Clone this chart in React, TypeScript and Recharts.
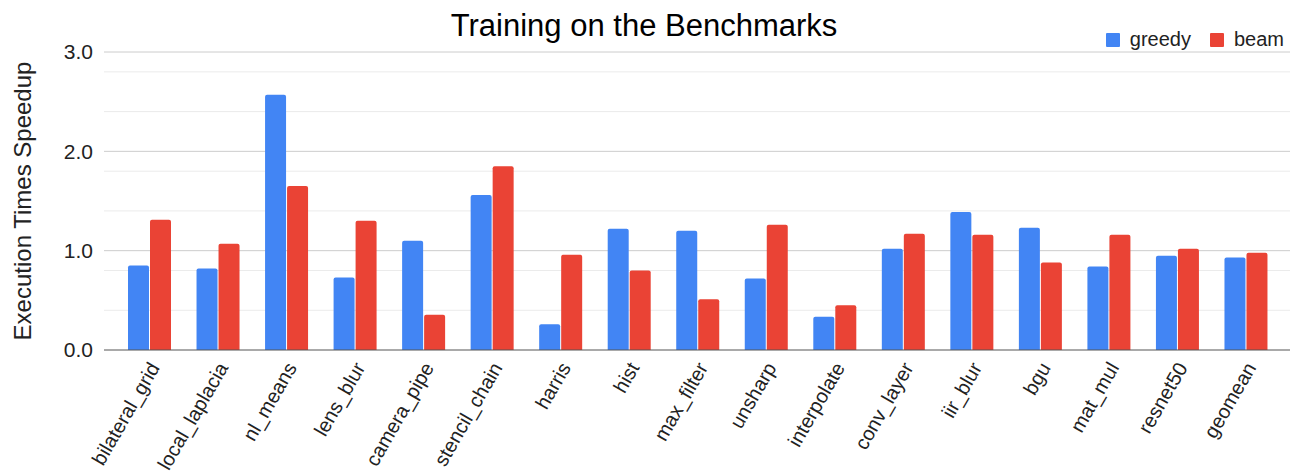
import React from 'react';
import {
  BarChart,
  Bar,
  XAxis,
  YAxis,
  CartesianGrid,
} from 'recharts';

const benchmarks = [
  'bilateral_grid', 'local_laplacia', 'nl_means', 'lens_blur', 'camera_pipe',
  'stencil_chain', 'harris', 'hist', 'max_filter', 'unsharp', 'interpolate',
  'conv_layer', 'iir_blur', 'bgu', 'mat_mul', 'resnet50', 'geomean',
];
const greedy = [0.85, 0.82, 2.57, 0.73, 1.10, 1.56, 0.26, 1.22, 1.20, 0.72, 0.335, 1.02, 1.39, 1.23, 0.84, 0.95, 0.93];
const beam = [1.31, 1.07, 1.65, 1.30, 0.355, 1.85, 0.96, 0.80, 0.51, 1.26, 0.45, 1.17, 1.16, 0.88, 1.16, 1.02, 0.98];
const majorTicks = [0, 1, 2, 3];
const minorTicks = [0.2, 0.4, 0.6, 0.8, 1.2, 1.4, 1.6, 1.8, 2.2, 2.4, 2.6, 2.8];

const data = benchmarks.map((name, i) => ({ name, greedy: greedy[i], beam: beam[i] }));

const FONT = 'Arial, "Liberation Sans", sans-serif';
const BLUE = '#4285F4';
const RED = '#EA4335';

function AngledTick({ x, y, payload }: any) { // eslint-disable-line @typescript-eslint/no-explicit-any
  return (
    <g transform={`translate(${x + 5},${y + 6})`}>
      <text
        x={0}
        y={0}
        dy={7}
        textAnchor="end"
        transform="rotate(-60)"
        fontSize={20}
        fontFamily={FONT}
        fill="#222"
      >
        {payload.value}
      </text>
    </g>
  );
}

// legend drawn as html, so it does not push the plot down
function LegendBox() {
  const items = [
    { label: 'greedy', color: BLUE },
    { label: 'beam', color: RED },
  ];
  return (
    <div
      style={{
        position: 'absolute',
        right: 7,
        top: 28,
        display: 'flex',
        fontFamily: FONT,
        fontSize: 20,
        color: '#222',
        lineHeight: '23px',
      }}
    >
      {items.map((it, i) => (
        <div key={it.label} style={{ display: 'flex', alignItems: 'center', marginLeft: i ? 19 : 0 }}>
          <span style={{ width: 14, height: 14, background: it.color, borderRadius: 1, marginRight: 10 }} />
          {it.label}
        </div>
      ))}
    </div>
  );
}

export default function App() {
  return (
    <div style={{ position: 'absolute', left: 0, top: 0, width: 1291, height: 476, background: '#fff' }}>
      <div
        style={{
          position: 'absolute',
          left: 644 - 400,
          top: 8,
          width: 800,
          textAlign: 'center',
          fontFamily: FONT,
          fontSize: 31,
          lineHeight: '36px',
          color: '#000',
        }}
      >
        Training on the Benchmarks
      </div>
      <LegendBox />
      <BarChart
        width={1291}
        height={476}
        data={data}
        margin={{ top: 52, right: 1, left: 0, bottom: 0 }}
        barGap={1}
        barSize={21}
      >
        <CartesianGrid vertical={false} horizontalValues={minorTicks} stroke="#ebebeb" strokeWidth={1} />
        <CartesianGrid vertical={false} horizontalValues={[1, 2, 3]} stroke="#cccccc" strokeWidth={1} />
        <XAxis
          dataKey="name"
          height={126}
          interval={0}
          padding={{ left: 11, right: 10 }}
          tickLine={false}
          axisLine={{ stroke: '#555', strokeWidth: 1 }}
          tick={<AngledTick />}
        />
        <YAxis
          width={104}
          domain={[0, 3]}
          ticks={majorTicks}
          tickFormatter={(v: number) => v.toFixed(1)}
          axisLine={false}
          tickLine={false}
          tickMargin={5}
          tick={{ fontSize: 21, fontFamily: FONT, fill: '#222' }}
          label={{
            value: 'Execution Times Speedup',
            angle: -90,
            position: 'center',
            dx: -30,
            style: { fontSize: 24, fontFamily: FONT, fill: '#222', textAnchor: 'middle' },
          }}
        />
        <Bar dataKey="greedy" fill={BLUE} radius={[2, 2, 0, 0]} isAnimationActive={false} />
        <Bar dataKey="beam" fill={RED} radius={[2, 2, 0, 0]} isAnimationActive={false} />
      </BarChart>
    </div>
  );
}
